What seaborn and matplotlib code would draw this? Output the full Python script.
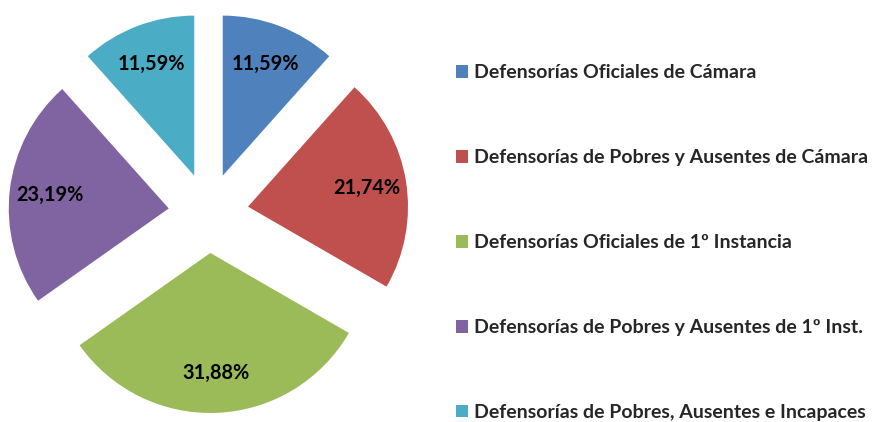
import numpy as np
import seaborn as sns
from matplotlib import pyplot as plt
from matplotlib.patches import Patch

sns.set_theme(style='white')
plt.rcParams['font.family'] = ['Lato', 'DejaVu Sans']

# Porcentajes
categorias = ['Defensorías Oficiales de Cámara',
              'Defensorías de Pobres y Ausentes de Cámara',
              'Defensorías Oficiales de 1º Instancia',
              'Defensorías de Pobres y Ausentes de 1º Inst.',
              'Defensorías de Pobres, Ausentes e Incapaces']
porcentajes = [11.59, 21.74, 31.88, 23.19, 11.59]
colores = ['#4F81BD', '#C0504D', '#9BBB59', '#8064A2', '#4BACC6']

fig = plt.figure(figsize=(8.74, 4.22), dpi=100)
ax = fig.add_axes([8.5 / 874, 9 / 422, 400 / 874, 400 / 422])

wedges, textos, autotextos = ax.pie(
    porcentajes, colors=colores, startangle=90, counterclock=False,
    explode=[0.25] * len(porcentajes), pctdistance=0.75,
    autopct=lambda p: f'{p:.2f}%'.replace('.', ','),
    wedgeprops=dict(linewidth=0))

for t in autotextos:
    t.set_fontsize(14.3)
    t.set_fontweight('bold')
    t.set_color('black')

handles = [Patch(facecolor=c, edgecolor='none') for c in colores]
fig.legend(handles, categorias, loc='upper left',
           bbox_to_anchor=(456 / 874, 1 - 64.5 / 422), frameon=False,
           prop=dict(weight='bold', size=14), handlelength=0.62,
           handleheight=0.62, handletextpad=0.3, labelspacing=3.49,
           borderpad=0, borderaxespad=0)

fig.savefig('out.png', dpi=100)
